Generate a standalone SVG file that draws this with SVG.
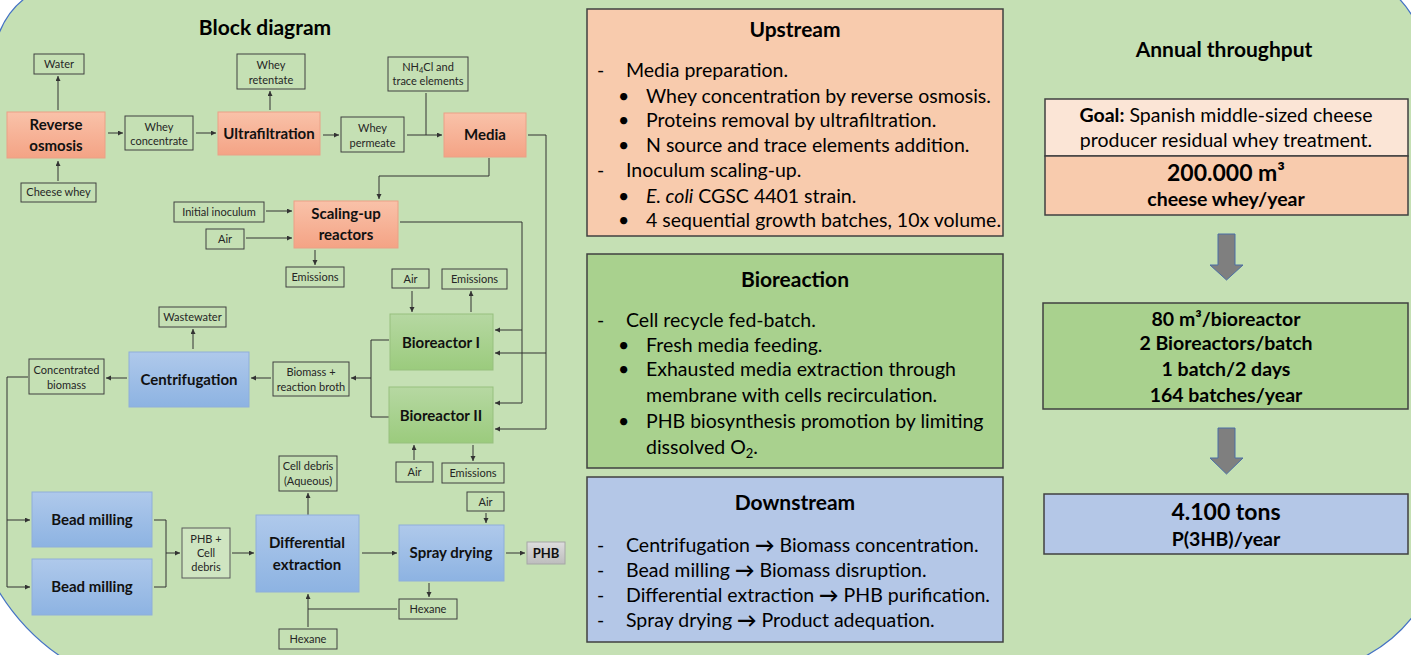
<svg xmlns="http://www.w3.org/2000/svg" width="1411" height="655" viewBox="0 0 1411 655">
<defs>
<linearGradient id="gSal" x1="0" y1="0" x2="0" y2="1"><stop offset="0" stop-color="#F9C2A9"/><stop offset="1" stop-color="#F4A385"/></linearGradient>
<linearGradient id="gGrn" x1="0" y1="0" x2="0" y2="1"><stop offset="0" stop-color="#B6D8A2"/><stop offset="1" stop-color="#9BCB7D"/></linearGradient>
<linearGradient id="gBlu" x1="0" y1="0" x2="0" y2="1"><stop offset="0" stop-color="#AFC9EB"/><stop offset="1" stop-color="#8DB3E2"/></linearGradient>
<linearGradient id="gGry" x1="0" y1="0" x2="0" y2="1"><stop offset="0" stop-color="#DDDDDD"/><stop offset="1" stop-color="#BDBDBD"/></linearGradient>
<marker id="ah" markerUnits="userSpaceOnUse" markerWidth="6" markerHeight="6" refX="5" refY="2.5" orient="auto"><path d="M0,0 L5,2.5 L0,5 z" fill="#333"/></marker>
</defs>
<style>
.lb{fill:none;stroke:#404040;stroke-width:1}
.lt{font-family:Lato,"Liberation Sans",sans-serif;font-size:11px;fill:#262626;text-anchor:middle}
.pt{font-family:Lato,"Liberation Sans",sans-serif;font-size:15px;font-weight:bold;fill:#111;text-anchor:middle}
.sal{fill:url(#gSal);stroke:#EBA086;stroke-width:1}
.grn{fill:url(#gGrn);stroke:#97C07E;stroke-width:1}
.blu{fill:url(#gBlu);stroke:#8FAEDA;stroke-width:1}
.c{fill:none;stroke:#333;stroke-width:1}
.ca{fill:none;stroke:#333;stroke-width:1;marker-end:url(#ah)}
.sec{stroke:#404040;stroke-width:1.5}
.tt{font-family:Lato,"Liberation Sans",sans-serif;font-size:21px;font-weight:bold;fill:#000;text-anchor:middle}
.bt{font-family:Lato,"Liberation Sans",sans-serif;font-size:19.5px;fill:#000}
.rb{font-family:Lato,"Liberation Sans",sans-serif;font-weight:bold;fill:#000;text-anchor:middle}
.blk{fill:#7F7F7F;stroke:#4A6FA5;stroke-width:1}
</style>
<rect x="0" y="0" width="1411" height="655" fill="#FFFFFF"/>
<path d="M-5,45 Q5,10 30,-5 L1395,-5 Q1405,3 1416,22 L1416,612 Q1395,642 1358,660 L66,660 Q22,632 -5,585 Z" fill="#C5E0B4" stroke="#4472C4" stroke-width="1.2"/>

<text class="tt" x="265" y="35">Block diagram</text>

<g id="connectors">
<path class="ca" d="M58,110 V76"/>
<path class="ca" d="M58,181 V161"/>
<path class="ca" d="M108,133 H123"/>
<path class="ca" d="M196,133 H216"/>
<path class="ca" d="M270,110 V91"/>
<path class="ca" d="M323,135 H339"/>
<path class="ca" d="M407,135 H442"/>
<path class="c" d="M426,93 V135"/>
<path class="ca" d="M489,158 V176 H379 V199"/>
<path class="ca" d="M528,135 H546 V353 H495"/>
<path class="ca" d="M546,353 V429 H495"/>
<path class="ca" d="M400,222 H522 V330 H495"/>
<path class="ca" d="M522,330 V403 H495"/>
<path class="ca" d="M266,211 H292"/>
<path class="ca" d="M246,238 H292"/>
<path class="ca" d="M315,250 V265"/>
<path class="ca" d="M412,291 V312"/>
<path class="ca" d="M471,312 V291"/>
<path class="c" d="M389,340 H371 V417 H389"/>
<path class="ca" d="M371,378 H351"/>
<path class="ca" d="M271,378 H251"/>
<path class="ca" d="M193,349 V329"/>
<path class="ca" d="M127,378 H106"/>
<path class="ca" d="M28,377 H7 V587 H30"/>
<path class="ca" d="M7,520 H30"/>
<path class="c" d="M154,520 H166 V587 H154"/>
<path class="ca" d="M166,553 H180"/>
<path class="ca" d="M232,553 H254"/>
<path class="ca" d="M308,515 V493"/>
<path class="ca" d="M362,553 H397"/>
<path class="ca" d="M486,513 V523"/>
<path class="ca" d="M506,553 H525"/>
<path class="ca" d="M429,583 V597"/>
<path class="c" d="M397,609 H308"/>
<path class="ca" d="M308,627 V594"/>
<path class="ca" d="M414,460 V445"/>
<path class="ca" d="M473,445 V461"/>
</g>

<g id="water"><rect class="lb" x="34" y="54" width="50" height="20"/><text class="lt" x="59" y="68">Water</text></g>
<g id="reverse-osmosis"><rect class="sal" x="7" y="112" width="98" height="46"/><text class="pt" x="56" y="130">Reverse</text><text class="pt" x="56" y="151">osmosis</text></g>
<g id="cheese-whey"><rect class="lb" x="21" y="183" width="75" height="19"/><text class="lt" x="58.5" y="196">Cheese whey</text></g>
<g id="whey-concentrate"><rect class="lb" x="125" y="116" width="68" height="34"/><text class="lt" x="159" y="131">Whey</text><text class="lt" x="159" y="145">concentrate</text></g>
<g id="ultrafiltration"><rect class="sal" x="218" y="112" width="102" height="43"/><text class="pt" x="269" y="139">Ultrafiltration</text></g>
<g id="whey-retentate"><rect class="lb" x="237" y="54" width="68" height="35"/><text class="lt" x="271" y="69">Whey</text><text class="lt" x="271" y="84">retentate</text></g>
<g id="whey-permeate"><rect class="lb" x="341" y="117" width="63" height="35"/><text class="lt" x="372.5" y="132">Whey</text><text class="lt" x="372.5" y="147">permeate</text></g>
<g id="nh4cl"><rect class="lb" x="388" y="57" width="80" height="34"/><text class="lt" x="428" y="71">NH<tspan font-size="7.5" dy="2">4</tspan><tspan dy="-2">Cl and</tspan></text><text class="lt" x="428" y="85">trace elements</text></g>
<g id="media"><rect class="sal" x="444" y="113" width="82" height="44"/><text class="pt" x="485" y="140">Media</text></g>
<g id="initial-inoculum"><rect class="lb" x="174" y="202" width="90" height="20"/><text class="lt" x="219" y="216">Initial inoculum</text></g>
<g id="air-scaling"><rect class="lb" x="206" y="229" width="38" height="20"/><text class="lt" x="225" y="243">Air</text></g>
<g id="scaling-up"><rect class="sal" x="294" y="201" width="104" height="47"/><text class="pt" x="346" y="219">Scaling-up</text><text class="pt" x="346" y="240">reactors</text></g>
<g id="emissions-scaling"><rect class="lb" x="286" y="267" width="58" height="20"/><text class="lt" x="315" y="281">Emissions</text></g>
<g id="air-br1"><rect class="lb" x="392" y="269" width="37" height="19"/><text class="lt" x="410.5" y="283">Air</text></g>
<g id="emissions-br1"><rect class="lb" x="442" y="269" width="65" height="20"/><text class="lt" x="474.5" y="283">Emissions</text></g>
<g id="bioreactor-1"><rect class="grn" x="390" y="314" width="103" height="56"/><text class="pt" x="441" y="348">Bioreactor I</text></g>
<g id="bioreactor-2"><rect class="grn" x="389" y="387" width="104" height="56"/><text class="pt" x="441" y="421">Bioreactor II</text></g>
<g id="air-br2"><rect class="lb" x="396" y="462" width="37" height="20"/><text class="lt" x="414.5" y="476">Air</text></g>
<g id="emissions-br2"><rect class="lb" x="442" y="463" width="62" height="20"/><text class="lt" x="473" y="477">Emissions</text></g>
<g id="biomass-broth"><rect class="lb" x="273" y="362" width="76" height="34"/><text class="lt" x="311" y="376">Biomass +</text><text class="lt" x="311" y="391">reaction broth</text></g>
<g id="centrifugation"><rect class="blu" x="129" y="352" width="120" height="55"/><text class="pt" x="189" y="385">Centrifugation</text></g>
<g id="wastewater"><rect class="lb" x="159" y="307" width="67" height="20"/><text class="lt" x="192.5" y="321">Wastewater</text></g>
<g id="concentrated-biomass"><rect class="lb" x="29" y="359" width="75" height="35"/><text class="lt" x="66.5" y="374">Concentrated</text><text class="lt" x="66.5" y="389">biomass</text></g>
<g id="bead-milling-1"><rect class="blu" x="32" y="492" width="120" height="55"/><text class="pt" x="92" y="525">Bead milling</text></g>
<g id="bead-milling-2"><rect class="blu" x="32" y="559" width="120" height="56"/><text class="pt" x="92" y="592">Bead milling</text></g>
<g id="phb-cell-debris"><rect class="lb" x="182" y="528" width="48" height="50" fill="#CFE5C1" style="fill:#CFE5C1;stroke:#5a5a5a"/><text class="lt" x="206" y="543">PHB +</text><text class="lt" x="206" y="557">Cell</text><text class="lt" x="206" y="571">debris</text></g>
<g id="differential-extraction"><rect class="blu" x="256" y="515" width="103" height="77"/><text class="pt" x="307" y="548">Differential</text><text class="pt" x="307" y="570">extraction</text></g>
<g id="cell-debris"><rect class="lb" x="279" y="456" width="58" height="35"/><text class="lt" x="308" y="470">Cell debris</text><text class="lt" x="308" y="485">(Aqueous)</text></g>
<g id="spray-drying"><rect class="blu" x="399" y="525" width="105" height="56"/><text class="pt" x="451" y="558">Spray drying</text></g>
<g id="air-spray"><rect class="lb" x="467" y="492" width="37" height="19"/><text class="lt" x="485.5" y="505.5">Air</text></g>
<g id="phb"><rect x="527" y="542" width="38" height="22" fill="url(#gGry)" stroke="#A6A6A6"/><text class="pt" x="546" y="558" font-size="13px" style="font-size:13px">PHB</text></g>
<g id="hexane-1"><rect class="lb" x="399" y="599" width="58" height="20"/><text class="lt" x="428" y="613">Hexane</text></g>
<g id="hexane-2"><rect class="lb" x="279" y="629" width="58" height="20"/><text class="lt" x="308" y="643">Hexane</text></g>

<g id="upstream">
<rect class="sec" x="587" y="9" width="416" height="227" fill="#F8CBAD"/>
<text class="tt" x="795" y="37">Upstream</text>
<text class="bt"><tspan x="597" y="77">-</tspan><tspan x="626" y="77">Media preparation.</tspan></text>
<text class="bt"><tspan x="618" y="103">•</tspan><tspan x="646" y="103">Whey concentration by reverse osmosis.</tspan></text>
<text class="bt"><tspan x="618" y="127">•</tspan><tspan x="646" y="127">Proteins removal by ultrafiltration.</tspan></text>
<text class="bt"><tspan x="618" y="152">•</tspan><tspan x="646" y="152">N source and trace elements addition.</tspan></text>
<text class="bt"><tspan x="597" y="177">-</tspan><tspan x="626" y="177">Inoculum scaling-up.</tspan></text>
<text class="bt"><tspan x="618" y="203">•</tspan><tspan x="646" y="203" font-style="italic">E. coli</tspan><tspan> CGSC 4401 strain.</tspan></text>
<text class="bt"><tspan x="618" y="227">•</tspan><tspan x="646" y="227">4 sequential growth batches, 10x volume.</tspan></text>
</g>

<g id="bioreaction">
<rect class="sec" x="587" y="254" width="416" height="214" fill="#A9D18E"/>
<text class="tt" x="795" y="287">Bioreaction</text>
<text class="bt"><tspan x="597" y="327">-</tspan><tspan x="626" y="327">Cell recycle fed-batch.</tspan></text>
<text class="bt"><tspan x="618" y="352">•</tspan><tspan x="646" y="352">Fresh media feeding.</tspan></text>
<text class="bt"><tspan x="618" y="376">•</tspan><tspan x="646" y="376">Exhausted media extraction through</tspan></text>
<text class="bt"><tspan x="646" y="402">membrane with cells recirculation.</tspan></text>
<text class="bt"><tspan x="618" y="428">•</tspan><tspan x="646" y="428">PHB biosynthesis promotion by limiting</tspan></text>
<text class="bt"><tspan x="646" y="454">dissolved O</tspan><tspan font-size="13" dy="4">2</tspan><tspan dy="-4">.</tspan></text>
</g>

<g id="downstream">
<rect class="sec" x="587" y="477" width="416" height="165" fill="#B4C7E7"/>
<text class="tt" x="795" y="510">Downstream</text>
<text class="bt"><tspan x="597" y="552">-</tspan><tspan x="626" y="552">Centrifugation <tspan font-weight="bold">→</tspan> Biomass concentration.</tspan></text>
<text class="bt"><tspan x="597" y="577">-</tspan><tspan x="626" y="577">Bead milling <tspan font-weight="bold">→</tspan> Biomass disruption.</tspan></text>
<text class="bt"><tspan x="597" y="602">-</tspan><tspan x="626" y="602">Differential extraction <tspan font-weight="bold">→</tspan> PHB purification.</tspan></text>
<text class="bt"><tspan x="597" y="627">-</tspan><tspan x="626" y="627">Spray drying <tspan font-weight="bold">→</tspan> Product adequation.</tspan></text>
</g>

<text class="tt" x="1224" y="57">Annual throughput</text>
<g id="goal">
<rect class="sec" x="1045" y="99" width="363" height="57" fill="#FBE5D6"/>
<text class="bt" x="1226" y="122" text-anchor="middle"><tspan font-weight="bold">Goal:</tspan> Spanish middle-sized cheese</text>
<text class="bt" x="1226" y="147" text-anchor="middle">producer residual whey treatment.</text>
</g>
<g id="whey-volume">
<rect class="sec" x="1045" y="156" width="363" height="59" fill="#F8CBAD"/>
<text class="rb" x="1226" y="181" font-size="23">200.000 m³</text>
<text class="rb" x="1226" y="206" font-size="19.5">cheese whey/year</text>
</g>
<path class="blk" d="M1218,234 H1235 V265 H1243 L1226.5,280 L1210,265 H1218 Z"/>
<g id="bioreactor-stats">
<rect class="sec" x="1043" y="303" width="365" height="106" fill="#A9D18E"/>
<text class="rb" x="1226" y="326" font-size="19.5">80 m³/bioreactor</text>
<text class="rb" x="1226" y="350" font-size="19.5">2 Bioreactors/batch</text>
<text class="rb" x="1226" y="376" font-size="19.5">1 batch/2 days</text>
<text class="rb" x="1226" y="402" font-size="19.5">164 batches/year</text>
</g>
<path class="blk" d="M1218,428 H1235 V458 H1243 L1226.5,474 L1210,458 H1218 Z"/>
<g id="output">
<rect class="sec" x="1044" y="494" width="364" height="60" fill="#B4C7E7"/>
<text class="rb" x="1226" y="520" font-size="23">4.100 tons</text>
<text class="rb" x="1226" y="546" font-size="19.5">P(3HB)/year</text>
</g>
</svg>
